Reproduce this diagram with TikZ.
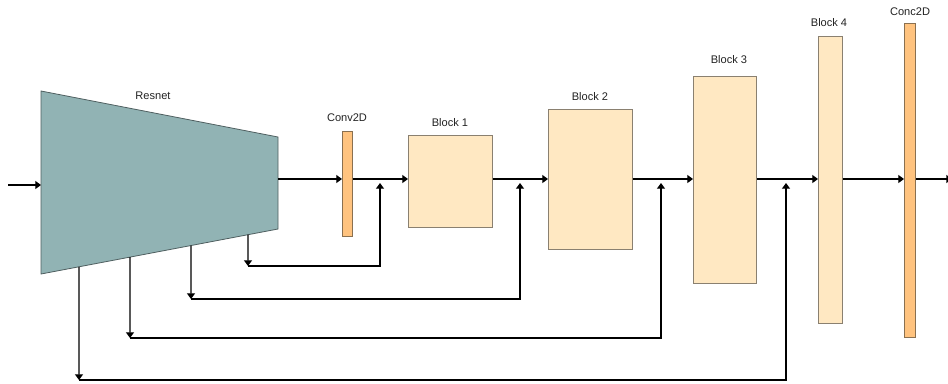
\documentclass[tikz,border=0pt]{standalone}
\usepackage{fontspec}
\setmainfont{Liberation Sans}
\usetikzlibrary{arrows.meta,calc}
\definecolor{resfill}{HTML}{91B3B4}
\definecolor{resdraw}{HTML}{4F5F60}
\definecolor{blkfill}{HTML}{FFE8C2}
\definecolor{blkdraw}{HTML}{8A8070}
\definecolor{convfill}{HTML}{FFC37F}
\definecolor{convdraw}{HTML}{8A7050}
\definecolor{txt}{HTML}{222222}
\tikzset{
  box/.style={draw=blkdraw,fill=blkfill,line width=0.6pt,inner sep=0pt,anchor=north west},
  convbox/.style={draw=convdraw,fill=convfill,line width=0.6pt,inner sep=0pt,anchor=north west},
  lbl/.style={text=txt,font=\fontsize{8.3pt}{9pt}\selectfont,inner sep=0pt},
  arr/.style={line width=1.1pt,-{Triangle[width=6pt,length=4.3pt]}},
  ln/.style={line width=1.1pt}
}
\begin{document}
\begin{tikzpicture}[x=0.75pt,y=-0.75pt]
\useasboundingbox (0,0) rectangle (948,383);
% Resnet trapezoid
\coordinate (rtl) at (41,91);
\coordinate (rbl) at (41,274);
\coordinate (rtr) at (278,137);
\coordinate (rbr) at (278,229);
\filldraw[fill=resfill,draw=resdraw,line width=0.6pt] (rtl) -- (rtr) -- (rbr) -- (rbl) -- cycle;
\node[lbl] (lres) at (153,96) {Resnet};
\coordinate (rin) at (41,185);
\coordinate (rout) at (278,179);
\coordinate (src) at (8,185);
% blocks
\node[convbox,minimum width=10*0.75pt,minimum height=105*0.75pt] (conv) at (342,131) {};
\node[box,minimum width=84*0.75pt,minimum height=92*0.75pt] (b1) at (408,135) {};
\node[box,minimum width=84*0.75pt,minimum height=140*0.75pt] (b2) at (548,109) {};
\node[box,minimum width=63*0.75pt,minimum height=207*0.75pt] (b3) at (693,76) {};
\node[box,minimum width=24*0.75pt,minimum height=287*0.75pt] (b4) at (818,36) {};
\node[convbox,minimum width=11*0.75pt,minimum height=314*0.75pt] (conc) at (904,23) {};
% labels
\node[lbl] (lconv) at (347,118) {Conv2D};
\node[lbl] (lb1) at (450,123) {Block 1};
\node[lbl] (lb2) at (590,97) {Block 2};
\node[lbl] (lb3) at (729,60) {Block 3};
\node[lbl] (lb4) at (829,23) {Block 4};
\node[lbl] (lconc) at (910,12) {Conc2D};
% main line
\draw[arr] (src) -- (rin);
\draw[arr] (rout) -- (rout -| conv.west);
\draw[arr] (rout -| conv.east) -- (rout -| b1.west);
\draw[arr] (rout -| b1.east) -- (rout -| b2.west);
\draw[arr] (rout -| b2.east) -- (rout -| b3.west);
\draw[arr] (rout -| b3.east) -- (rout -| b4.west);
\draw[arr] (rout -| b4.east) -- (rout -| conc.west);
\coordinate (out) at (952,179);
\draw[arr] (rout -| conc.east) -- (out);
% skip taps
\coordinate (t1) at ($(rbl)!{(248-41)/237}!(rbr)$);
\coordinate (t2) at ($(rbl)!{(191-41)/237}!(rbr)$);
\coordinate (t3) at ($(rbl)!{(130-41)/237}!(rbr)$);
\coordinate (t4) at ($(rbl)!{(79-41)/237}!(rbr)$);
\coordinate (c1) at (248,266);
\coordinate (c2) at (191,299);
\coordinate (c3) at (130,338);
\coordinate (c4) at (79,380);
\coordinate (u1) at (380,183);
\coordinate (u2) at (520,183);
\coordinate (u3) at (661,183);
\coordinate (u4) at (786,183);
\draw[arr] (t1) -- (c1);
\draw[arr] (t2) -- (c2);
\draw[arr] (t3) -- (c3);
\draw[arr] (t4) -- (c4);
\draw[arr] (c1) -| (u1);
\draw[arr] (c2) -| (u2);
\draw[arr] (c3) -| (u3);
\draw[arr] (c4) -| (u4);
\end{tikzpicture}
\end{document}
